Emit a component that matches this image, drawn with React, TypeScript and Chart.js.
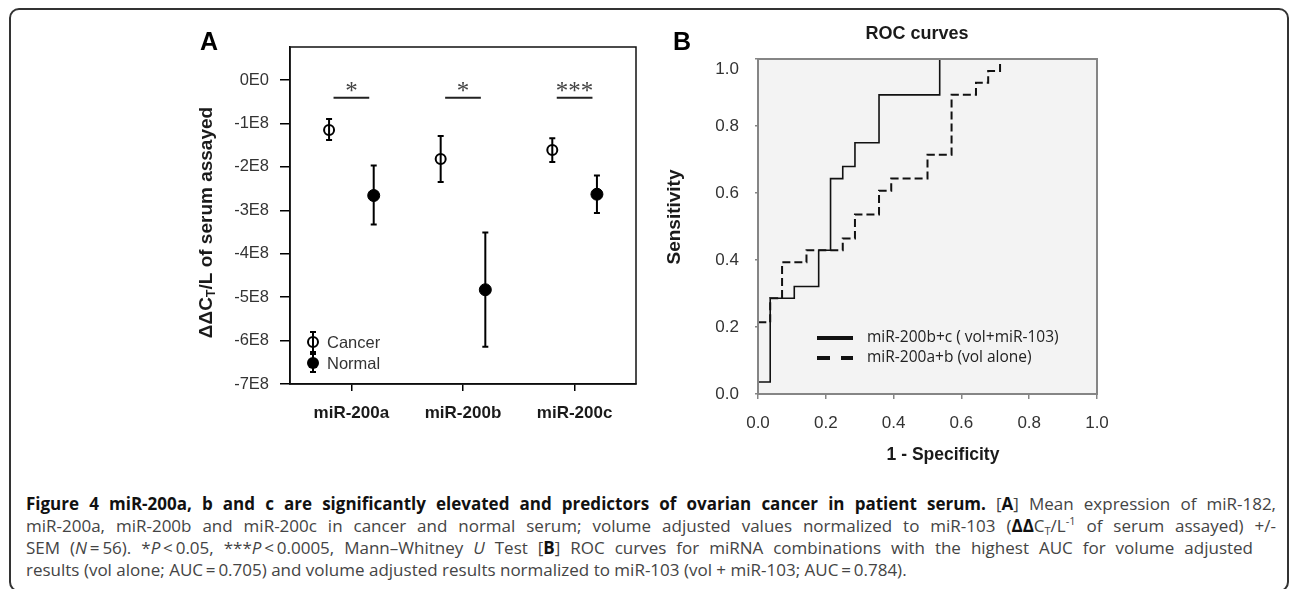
import React, { useEffect, useRef } from "react";
import { Chart, registerables } from "chart.js";

Chart.register(...registerables);

// ---------- Panel A data ----------
const categories = ["miR-200a", "miR-200b", "miR-200c"];
const cancerMean = [-1.15e8, -1.82e8, -1.61e8];
const cancerLow = [-1.38e8, -2.35e8, -1.89e8];
const cancerHigh = [-0.9e8, -1.29e8, -1.34e8];
const normalMean = [-2.66e8, -4.83e8, -2.63e8];
const normalLow = [-3.33e8, -6.14e8, -3.06e8];
const normalHigh = [-1.97e8, -3.51e8, -2.2e8];
const sigLabels = ["*", "*", "***"];
const sigLevel = -0.41e8;
const yTickValuesA = [0, -1e8, -2e8, -3e8, -4e8, -5e8, -6e8, -7e8];
const yTickLabelsA = ["0E0", "-1E8", "-2E8", "-3E8", "-4E8", "-5E8", "-6E8", "-7E8"];
const seriesNamesA = ["Cancer", "Normal"];

// ---------- Panel B data (ROC) ----------
const rocFpr1 = [0, 0, 0.036, 0.107, 0.179, 0.214, 0.25, 0.286, 0.357, 0.536];
const rocTpr1 = [0, 0.036, 0.286, 0.321, 0.429, 0.643, 0.679, 0.75, 0.893, 1.0];
const rocFpr2 = [0, 0, 0.036, 0.071, 0.143, 0.25, 0.286, 0.357, 0.393, 0.5, 0.571, 0.643, 0.679, 0.714];
const rocTpr2 = [0, 0.214, 0.286, 0.393, 0.429, 0.464, 0.536, 0.607, 0.643, 0.714, 0.893, 0.929, 0.964, 1.0];
const rocNames = ["miR-200b+c ( vol+miR-103)", "miR-200a+b (vol alone)"];
const rocTickValues = [0, 0.2, 0.4, 0.6, 0.8, 1.0];
const rocTickLabels = ["0.0", "0.2", "0.4", "0.6", "0.8", "1.0"];

const SANS = "'Liberation Sans', Arial, Helvetica, sans-serif";
const OFFSET = 0.2;
const SIG_HALF = 0.16;

const noPad = (s: any) => {
  s.paddingTop = 0;
  s.paddingBottom = 0;
  s.paddingLeft = 0;
  s.paddingRight = 0;
};

const panelAPlugin = {
  id: "panelA",
  afterDraw(chart: any) {
    const { ctx, chartArea: ca, scales } = chart;
    const xs = scales.x;
    const ys = scales.y;
    ctx.save();
    ctx.strokeStyle = "#111";
    ctx.lineWidth = 1.5;
    ctx.strokeRect(ca.left, ca.top, ca.right - ca.left, ca.bottom - ca.top);

    const bar = (px: number, p1: number, p2: number, cap: number) => {
      ctx.beginPath();
      ctx.moveTo(px, p1);
      ctx.lineTo(px, p2);
      ctx.moveTo(px - cap, p1);
      ctx.lineTo(px + cap, p1);
      ctx.moveTo(px - cap, p2);
      ctx.lineTo(px + cap, p2);
      ctx.stroke();
    };
    ctx.strokeStyle = "#000";
    ctx.lineWidth = 2;
    categories.forEach((_, i) => {
      bar(xs.getPixelForValue(i + 1 - OFFSET), ys.getPixelForValue(cancerLow[i]), ys.getPixelForValue(cancerHigh[i]), 3);
      bar(xs.getPixelForValue(i + 1 + OFFSET), ys.getPixelForValue(normalLow[i]), ys.getPixelForValue(normalHigh[i]), 3);
    });

    // significance markers
    const py = ys.getPixelForValue(sigLevel);
    ctx.strokeStyle = "#222";
    ctx.lineWidth = 2;
    ctx.fillStyle = "#444";
    ctx.font = "25px 'Liberation Serif', 'Times New Roman', serif";
    ctx.textAlign = "center";
    ctx.textBaseline = "alphabetic";
    sigLabels.forEach((lab, i) => {
      const x1 = xs.getPixelForValue(i + 1 - SIG_HALF);
      const x2 = xs.getPixelForValue(i + 1 + SIG_HALF);
      ctx.beginPath();
      ctx.moveTo(x1, py);
      ctx.lineTo(x2, py);
      ctx.stroke();
      ctx.fillText(lab, (x1 + x2) / 2, py + 1);
    });

    // legend
    const lx = ca.left + 23;
    const ly1 = ca.bottom - 42;
    const ly2 = ca.bottom - 21;
    ctx.strokeStyle = "#000";
    ctx.lineWidth = 2;
    ctx.beginPath();
    ctx.arc(lx, ly1, 5, 0, Math.PI * 2);
    ctx.fillStyle = "#fff";
    ctx.fill();
    ctx.stroke();
    bar(lx, ly1 - 10, ly1 + 10, 3);
    ctx.beginPath();
    ctx.arc(lx, ly2, 6, 0, Math.PI * 2);
    ctx.fillStyle = "#000";
    ctx.fill();
    bar(lx, ly2 - 9, ly2 + 9, 3);
    ctx.fillStyle = "#333";
    ctx.font = `16.5px ${SANS}`;
    ctx.textAlign = "left";
    ctx.textBaseline = "middle";
    ctx.fillText(seriesNamesA[0], lx + 14, ly1 + 1);
    ctx.fillText(seriesNamesA[1], lx + 14, ly2 + 1);

    // y-axis title with subscript
    const cx = ca.left - 83;
    const cy = (ca.top + ca.bottom) / 2 + 7;
    ctx.translate(cx, cy);
    ctx.rotate(-Math.PI / 2);
    const big = `bold 19px ${SANS}`;
    const small = `bold 12.5px ${SANS}`;
    const parts: [string, string, number][] = [
      ["\u0394\u0394C", big, 0],
      ["T", small, 5],
      ["/L of serum assayed", big, 0],
    ];
    let total = 0;
    parts.forEach(([t, f]) => {
      ctx.font = f;
      total += ctx.measureText(t).width;
    });
    let x = -total / 2;
    ctx.fillStyle = "#1a1a1a";
    ctx.textBaseline = "middle";
    parts.forEach(([t, f, dy]) => {
      ctx.font = f;
      ctx.fillText(t, x, dy);
      x += ctx.measureText(t).width;
    });
    ctx.restore();
  },
};

const panelBPlugin = {
  id: "panelB",
  beforeDraw(chart: any) {
    const { ctx, chartArea: ca } = chart;
    ctx.save();
    ctx.fillStyle = "#f3f3f3";
    ctx.fillRect(ca.left, ca.top, ca.right - ca.left, ca.bottom - ca.top);
    ctx.restore();
  },
  afterDraw(chart: any) {
    const { ctx, chartArea: ca } = chart;
    ctx.save();
    ctx.strokeStyle = "#858585";
    ctx.lineWidth = 2;
    ctx.strokeRect(ca.left, ca.top, ca.right - ca.left, ca.bottom - ca.top);

    // top y label sits a little below its tick in the original
    ctx.fillStyle = "#333";
    ctx.font = `17px ${SANS}`;
    ctx.textAlign = "right";
    ctx.textBaseline = "middle";
    ctx.fillText(rocTickLabels[rocTickLabels.length - 1], ca.left - 19, ca.top + 10);

    // legend
    const x1 = ca.left + 59;
    const x2 = ca.left + 95;
    const y1 = ca.top + 279;
    const y2 = ca.top + 299;
    ctx.strokeStyle = "#111";
    ctx.lineWidth = 4;
    ctx.beginPath();
    ctx.moveTo(x1, y1);
    ctx.lineTo(x2, y1);
    ctx.stroke();
    ctx.setLineDash([13, 11]);
    ctx.beginPath();
    ctx.moveTo(x1, y2);
    ctx.lineTo(x2, y2);
    ctx.stroke();
    ctx.setLineDash([]);
    ctx.fillStyle = "#222";
    ctx.font = "15.5px 'Open Sans', 'Noto Sans', sans-serif";
    ctx.textAlign = "left";
    ctx.textBaseline = "middle";
    ctx.fillText(rocNames[0], ca.left + 109, y1);
    ctx.fillText(rocNames[1], ca.left + 109, y2);

    // axis titles
    ctx.fillStyle = "#1a1a1a";
    ctx.font = `bold 17.5px ${SANS}`;
    ctx.textAlign = "center";
    ctx.fillText("1 - Specificity", ca.left + 185, ca.bottom + 61);
    ctx.font = `bold 19px ${SANS}`;
    ctx.translate(ca.left - 83, ca.top + 158);
    ctx.rotate(-Math.PI / 2);
    ctx.fillText("Sensitivity", 0, 0);
    ctx.restore();
  },
};

export default function App() {
  const refA = useRef<HTMLCanvasElement>(null);
  const refB = useRef<HTMLCanvasElement>(null);

  useEffect(() => {
    const chartA = new Chart(refA.current as HTMLCanvasElement, {
      type: "scatter",
      data: {
        datasets: [
          {
            label: seriesNamesA[0],
            data: categories.map((_, i) => ({ x: i + 1 - OFFSET, y: cancerMean[i] })),
            pointStyle: "circle",
            pointRadius: 5,
            pointBorderWidth: 2,
            pointBorderColor: "#000",
            pointBackgroundColor: "#fff",
            showLine: false,
          },
          {
            label: seriesNamesA[1],
            data: categories.map((_, i) => ({ x: i + 1 + OFFSET, y: normalMean[i] })),
            pointStyle: "circle",
            pointRadius: 6,
            pointBorderWidth: 1,
            pointBorderColor: "#000",
            pointBackgroundColor: "#000",
            showLine: false,
          },
        ],
      },
      options: {
        animation: false,
        responsive: false,
        devicePixelRatio: 1,
        layout: { padding: { left: 0, right: 14, top: 27, bottom: 0 } },
        plugins: { legend: { display: false }, tooltip: { enabled: false } },
        scales: {
          x: {
            type: "linear",
            min: 0.45,
            max: 3.55,
            afterBuildTicks: (s: any) => {
              s.ticks = categories.map((_, i) => ({ value: i + 1 }));
            },
            afterFit: (s: any) => {
              s.height = 86;
              noPad(s);
            },
            ticks: {
              autoSkip: false,
              maxRotation: 0,
              padding: 12,
              color: "#1a1a1a",
              font: { family: SANS, size: 17, weight: "bold" },
              callback: (_v: any, i: number) => categories[i],
            },
            grid: { drawOnChartArea: false, drawTicks: true, tickLength: 7, color: "#000", lineWidth: 1.5 },
            border: { display: true, color: "#000", width: 1.5 },
          },
          y: {
            type: "linear",
            min: -7e8,
            max: 0.76e8,
            afterBuildTicks: (s: any) => {
              s.ticks = yTickValuesA.map((v) => ({ value: v }));
            },
            afterFit: (s: any) => {
              s.width = 100;
              noPad(s);
            },
            ticks: {
              autoSkip: false,
              padding: 11,
              color: "#333",
              font: { family: SANS, size: 16.5 },
              callback: (_v: any, i: number) => yTickLabelsA[i],
            },
            grid: { drawOnChartArea: false, drawTicks: true, tickLength: 10, color: "#000", lineWidth: 1.5 },
            border: { display: true, color: "#000", width: 1.5 },
          },
        },
      },
      plugins: [panelAPlugin],
    } as any);

    const chartB = new Chart(refB.current as HTMLCanvasElement, {
      type: "scatter",
      data: {
        datasets: [
          {
            label: rocNames[0],
            data: rocFpr1.map((x, i) => ({ x, y: rocTpr1[i] })),
            showLine: true,
            stepped: "before",
            borderColor: "#111",
            borderWidth: 1.6,
            pointRadius: 0,
            fill: false,
            clip: false,
          },
          {
            label: rocNames[1],
            data: rocFpr2.map((x, i) => ({ x, y: rocTpr2[i] })),
            showLine: true,
            stepped: "before",
            borderColor: "#111",
            borderWidth: 2,
            borderDash: [8, 4],
            pointRadius: 0,
            fill: false,
            clip: false,
          },
        ],
      },
      options: {
        animation: false,
        responsive: false,
        devicePixelRatio: 1,
        layout: { padding: { left: 0, right: 13, top: 14, bottom: 0 } },
        plugins: { legend: { display: false }, tooltip: { enabled: false } },
        scales: {
          x: {
            type: "linear",
            min: 0,
            max: 1,
            afterBuildTicks: (s: any) => {
              s.ticks = rocTickValues.map((v) => ({ value: v }));
            },
            afterFit: (s: any) => {
              s.height = 81;
              noPad(s);
            },
            ticks: {
              autoSkip: false,
              maxRotation: 0,
              padding: 14,
              color: "#333",
              font: { family: SANS, size: 17 },
              callback: (_v: any, i: number) => rocTickLabels[i],
            },
            grid: { drawOnChartArea: false, drawTicks: true, tickLength: 5, color: "#858585", lineWidth: 1.5 },
            border: { display: true, color: "#858585", width: 2 },
          },
          y: {
            type: "linear",
            min: 0,
            max: 1,
            afterBuildTicks: (s: any) => {
              s.ticks = rocTickValues.map((v) => ({ value: v }));
            },
            afterFit: (s: any) => {
              s.width = 118;
              noPad(s);
            },
            ticks: {
              autoSkip: false,
              padding: 16,
              color: "#333",
              font: { family: SANS, size: 17 },
              callback: (_v: any, i: number) => (i === rocTickLabels.length - 1 ? "" : rocTickLabels[i]),
            },
            grid: { drawOnChartArea: false, drawTicks: true, tickLength: 3, color: "#858585", lineWidth: 1.5 },
            border: { display: true, color: "#858585", width: 2 },
          },
        },
      },
      plugins: [panelBPlugin],
    } as any);

    return () => {
      chartA.destroy();
      chartB.destroy();
    };
  }, []);

  const capFont = "'Open Sans', 'Noto Sans', sans-serif";
  const lineStyle: React.CSSProperties = {
    position: "absolute",
    left: 26,
    whiteSpace: "nowrap",
    fontFamily: capFont,
    fontSize: 17,
    lineHeight: "22px",
    color: "#444",
    textAlign: "justify",
    textAlignLast: "justify" as any,
  };
  const b: React.CSSProperties = { fontWeight: 700, color: "#111" };
  const sub: React.CSSProperties = { fontSize: 11, lineHeight: 0, verticalAlign: "-3px" };
  const sup: React.CSSProperties = { fontSize: 11, lineHeight: 0, verticalAlign: "7px" };

  return (
    <div
      style={{
        position: "absolute",
        left: 0,
        top: 0,
        width: 1290,
        height: 589,
        background: "#fff",
        overflow: "hidden",
      }}
    >
      <div
        style={{
          position: "absolute",
          left: 9,
          top: 8,
          width: 1280,
          height: 584,
          boxSizing: "border-box",
          border: "2px solid #333",
          borderRadius: 10,
        }}
      />
      <canvas ref={refA} width={460} height={450} style={{ position: "absolute", left: 190, top: 20, width: 460, height: 450 }} />
      <canvas ref={refB} width={470} height={430} style={{ position: "absolute", left: 640, top: 45, width: 470, height: 430 }} />
      <div style={{ position: "absolute", left: 200, top: 29, font: `bold 25px ${SANS}`, lineHeight: "25px", color: "#000" }}>A</div>
      <div style={{ position: "absolute", left: 673, top: 29, font: `bold 25px ${SANS}`, lineHeight: "25px", color: "#000" }}>B</div>
      <div
        style={{
          position: "absolute",
          left: 857,
          width: 120,
          top: 24,
          textAlign: "center",
          font: `bold 18px ${SANS}`,
          lineHeight: "18px",
          color: "#1a1a1a",
        }}
      >
        ROC curves
      </div>

      <div style={{ ...lineStyle, top: 493, width: 1250 }}>
        <span style={b}>Figure 4 miR-200a, b and c are significantly elevated and predictors of ovarian cancer in patient serum.</span> [<span style={b}>A</span>] Mean expression of miR-182,
      </div>
      <div style={{ ...lineStyle, top: 515, width: 1250 }}>
        miR-200a, miR-200b and miR-200c in cancer and normal serum; volume adjusted values normalized to miR-103 (<span style={b}>ΔΔ</span>C<span style={sub}>T</span>/L<span style={sup}>-1</span> of serum assayed) +/-
      </div>
      <div style={{ ...lineStyle, top: 537, width: 1227 }}>
        SEM (<i>N</i>{"\u2009=\u2009"}56). *<i>P</i>{"\u2009<\u2009"}0.05, ***<i>P</i>{"\u2009<\u2009"}0.0005, Mann–Whitney <i>U</i> Test [<span style={b}>B</span>] ROC curves for miRNA combinations with the highest AUC for volume adjusted
      </div>
      <div style={{ ...lineStyle, top: 559, textAlign: "left", textAlignLast: "left" as any }}>
        results (vol alone; AUC{"\u2009=\u2009"}0.705) and volume adjusted results normalized to miR-103 (vol + miR-103; AUC{"\u2009=\u2009"}0.784).
      </div>
    </div>
  );
}
